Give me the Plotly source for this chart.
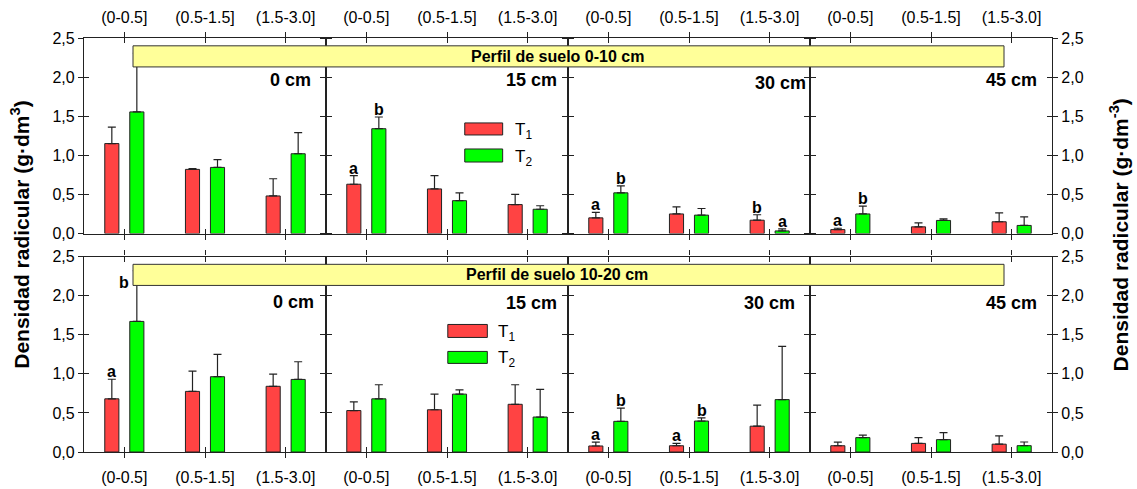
import plotly.graph_objects as go
from plotly.subplots import make_subplots

# ---------------- data ----------------
categories = ["(0-0.5]", "(0.5-1.5]", "(1.5-3.0]"]
depths = ["0 cm", "15 cm", "30 cm", "45 cm"]
profiles = ["Perfil de suelo 0-10 cm", "Perfil de suelo 10-20 cm"]
series_names = ["T<sub>1</sub>", "T<sub>2</sub>"]
y_ticks = [0.0, 0.5, 1.0, 1.5, 2.0, 2.5]

# Top row: soil profile 0-10 cm (one list per depth panel)
top_T1 = [[1.15, 0.82, 0.48], [0.63, 0.57, 0.37], [0.20, 0.25, 0.17], [0.05, 0.085, 0.15]]
top_T1_err = [[0.21, 0.01, 0.22], [0.11, 0.17, 0.13], [0.07, 0.09, 0.07], [0.017, 0.05, 0.115]]
top_T2 = [[1.555, 0.845, 1.02], [1.34, 0.42, 0.31], [0.52, 0.235, 0.033], [0.25, 0.167, 0.103]]
top_T2_err = [[0.75, 0.10, 0.27], [0.15, 0.10, 0.045], [0.09, 0.085, 0.025], [0.10, 0.02, 0.11]]
top_T1_sig = [["", "", ""], ["a", "", ""], ["a", "", "b"], ["a", "", ""]]
top_T2_sig = [["", "", ""], ["b", "", ""], ["b", "", "a"], ["b", "", ""]]

# Bottom row: soil profile 10-20 cm
bot_T1 = [[0.68, 0.775, 0.84], [0.53, 0.54, 0.61], [0.077, 0.08, 0.33], [0.08, 0.11, 0.10]]
bot_T1_err = [[0.25, 0.26, 0.157], [0.11, 0.20, 0.25], [0.05, 0.03, 0.27], [0.047, 0.073, 0.106]]
bot_T2 = [[1.67, 0.963, 0.928], [0.68, 0.74, 0.447], [0.392, 0.396, 0.67], [0.184, 0.158, 0.081]]
bot_T2_err = [[0.65, 0.285, 0.226], [0.18, 0.055, 0.355], [0.17, 0.04, 0.68], [0.033, 0.09, 0.047]]
bot_T1_sig = [["a", "", ""], ["", "", ""], ["a", "a", ""], ["", "", ""]]
bot_T2_sig = [["b", "", ""], ["", "", ""], ["b", "b", ""], ["", "", ""]]

# ---------------- style ----------------
FONT = "Liberation Sans, Arial, sans-serif"
RED = "#FF4343"
GREEN = "#00FF00"
EDGE = "#222222"
BANNER = "#FFFF99"
BAR_W = 0.175
OFFSETS = [-0.155 - BAR_W / 2, 0.155 - BAR_W / 2]
BANNER_Y = (2.13, 2.40)

rows = [
    dict(T=[top_T1, top_T2], E=[top_T1_err, top_T2_err], S=[top_T1_sig, top_T2_sig],
         label_y=[1.96, 1.96, 1.92, 1.96], label_x=[2.84, 2.89, 2.98, 2.84]),
    dict(T=[bot_T1, bot_T2], E=[bot_T1_err, bot_T2_err], S=[bot_T1_sig, bot_T2_sig],
         label_y=[1.92, 1.90, 1.90, 1.90], label_x=[2.88, 2.89, 2.84, 2.84]),
]
colors = [RED, GREEN]

W, H = 1137, 489
ML, MR, MT, MB = 84, 85, 38, 37
GAP = 23
PH = H - MT - MB

fig = make_subplots(rows=2, cols=4, horizontal_spacing=0, vertical_spacing=GAP / PH)

xpos = [i + 0.5 for i in range(len(categories))]
annotations = []
shapes = []

for r, rd in enumerate(rows):
    for c in range(4):
        idx = r * 4 + c + 1
        for s in range(2):
            vals = rd["T"][s][c]
            errs = rd["E"][s][c]
            fig.add_trace(go.Bar(
                x=xpos, y=vals, width=BAR_W, offset=OFFSETS[s],
                name=series_names[s], showlegend=False,
                marker=dict(color=colors[s], line=dict(color=EDGE, width=1)),
                error_y=dict(type="data", array=errs, arrayminus=[0] * len(errs),
                             symmetric=False, color=EDGE, thickness=1.2, width=4),
            ), row=r + 1, col=c + 1)
            # significance letters
            for j, letter in enumerate(rd["S"][s][c]):
                if not letter:
                    continue
                top = vals[j] + errs[j]
                xc = xpos[j] + OFFSETS[s] + BAR_W / 2
                if top > BANNER_Y[0]:
                    annotations.append(dict(x=xpos[j], y=BANNER_Y[0], xref=f"x{idx}", yref=f"y{idx}",
                                            text=f"<b>{letter}</b>", showarrow=False,
                                            yanchor="middle", xanchor="center", yshift=3,
                                            font=dict(family=FONT, size=16, color="black")))
                else:
                    annotations.append(dict(x=xc, y=top, xref=f"x{idx}", yref=f"y{idx}",
                                            text=f"<b>{letter}</b>", showarrow=False,
                                            yanchor="bottom", xanchor="center", yshift=-3,
                                            font=dict(family=FONT, size=16, color="black")))
        # depth label
        annotations.append(dict(x=rd["label_x"][c], y=rd["label_y"][c], xref=f"x{idx}", yref=f"y{idx}",
                                text=f"<b>{depths[c]}</b>", showarrow=False,
                                xanchor="right", yanchor="middle",
                                font=dict(family=FONT, size=18, color="black")))

        # main axes
        xa = dict(range=[0, 3], tickmode="array", tickvals=xpos, ticktext=categories,
                  showline=True, linecolor=EDGE, linewidth=1.3, mirror="allticks",
                  ticks="outside", ticklen=5, tickcolor=EDGE, tickwidth=1.2,
                  showgrid=False, zeroline=False, fixedrange=True, automargin=False,
                  side="top" if r == 0 else "bottom",
                  showticklabels=True, ticklabelstandoff=2 if r == 0 else 6,
                  tickfont=dict(family=FONT, size=16, color="black"))
        ya = dict(range=[0, 2.5], tickmode="array", tickvals=y_ticks,
                  ticktext=[f"{v:.1f}".replace(".", ",") for v in y_ticks],
                  showline=True, linecolor=EDGE, linewidth=1.3, mirror="allticks",
                  ticks="outside", ticklen=5, tickcolor=EDGE, tickwidth=1.2,
                  showgrid=False, zeroline=False, fixedrange=True, automargin=False,
                  showticklabels=(c == 0 or c == 3),
                  side="right" if c == 3 else "left",
                  tickfont=dict(family=FONT, size=16, color="black"))
        fig.layout[f"xaxis{idx}"].update(xa)
        fig.layout[f"yaxis{idx}"].update(ya)

        # overlay axes to draw the inward half of the crossing ticks
        oi = idx + 8
        fig.add_trace(go.Scatter(x=[None], y=[None], xaxis=f"x{oi}", yaxis=f"y{oi}",
                                 showlegend=False, hoverinfo="skip"))
        fig.layout[f"xaxis{oi}"] = dict(overlaying=f"x{idx}", anchor=f"y{oi}", range=[0, 3],
                                        tickmode="array", tickvals=xpos, showticklabels=False,
                                        ticks="inside", ticklen=5, tickcolor=EDGE, tickwidth=1.2,
                                        mirror="allticks", showline=False, showgrid=False,
                                        zeroline=False, fixedrange=True, automargin=False)
        fig.layout[f"yaxis{oi}"] = dict(overlaying=f"y{idx}", anchor=f"x{oi}", range=[0, 2.5],
                                        tickmode="array", tickvals=y_ticks, showticklabels=False,
                                        ticks="inside", ticklen=5, tickcolor=EDGE, tickwidth=1.2,
                                        mirror="allticks", showline=False, showgrid=False,
                                        zeroline=False, fixedrange=True, automargin=False)

    # banner across the row
    yref = f"y{r * 4 + 1}"
    shapes.append(dict(type="rect", xref="paper", yref=yref,
                       x0=(133 - ML) / (W - ML - MR), x1=(1004 - ML) / (W - ML - MR),
                       y0=BANNER_Y[0], y1=BANNER_Y[1], fillcolor=BANNER,
                       line=dict(color="#333333", width=1), layer="above"))
    annotations.append(dict(x=0.489, y=sum(BANNER_Y) / 2, xref="paper", yref=yref,
                            text=f"<b>{profiles[r]}</b>", showarrow=False,
                            xanchor="center", yanchor="middle",
                            font=dict(family=FONT, size=16, color="black")))

# legends (drawn in the 15 cm panel of each row)
legend_specs = [
    dict(idx=2, x0=1.72, x1=2.19, boxes=[(1.26, 1.414), (0.914, 1.081)], tx=2.32),
    dict(idx=6, x0=1.51, x1=2.00, boxes=[(1.465, 1.631), (1.133, 1.286)], tx=2.11),
]
for spec in legend_specs:
    for s, (b0, b1) in enumerate(spec["boxes"]):
        shapes.append(dict(type="rect", xref=f"x{spec['idx']}", yref=f"y{spec['idx']}",
                           x0=spec["x0"], x1=spec["x1"], y0=b0, y1=b1,
                           fillcolor=colors[s], line=dict(color=EDGE, width=1)))
        annotations.append(dict(x=spec["tx"], y=(b0 + b1) / 2, xref=f"x{spec['idx']}",
                                yref=f"y{spec['idx']}", text="T<sub>%d</sub>" % (s + 1),
                                showarrow=False, xanchor="left", yanchor="middle", yshift=-2,
                                font=dict(family=FONT, size=17, color="black")))

# y-axis titles
annotations.append(dict(x=-0.066, y=0.525, xref="paper", yref="paper",
                        text="<b>Densidad radicular (g·dm<sup>3</sup>)</b>", textangle=-90,
                        showarrow=False, xanchor="center", yanchor="middle",
                        font=dict(family=FONT, size=21, color="black")))
annotations.append(dict(x=1.069, y=0.525, xref="paper", yref="paper",
                        text="<b>Densidad radicular (g·dm<sup>-3</sup>)</b>", textangle=-90,
                        showarrow=False, xanchor="center", yanchor="middle",
                        font=dict(family=FONT, size=21, color="black")))

fig.update_layout(
    width=W, height=H,
    margin=dict(l=ML, r=MR, t=MT, b=MB),
    paper_bgcolor="white", plot_bgcolor="white",
    barmode="overlay", showlegend=False,
    font=dict(family=FONT, color="black"),
    annotations=annotations, shapes=shapes,
)

fig.write_html("out.html", config={"displayModeBar": False},
               post_script="document.body.style.margin='0';")
